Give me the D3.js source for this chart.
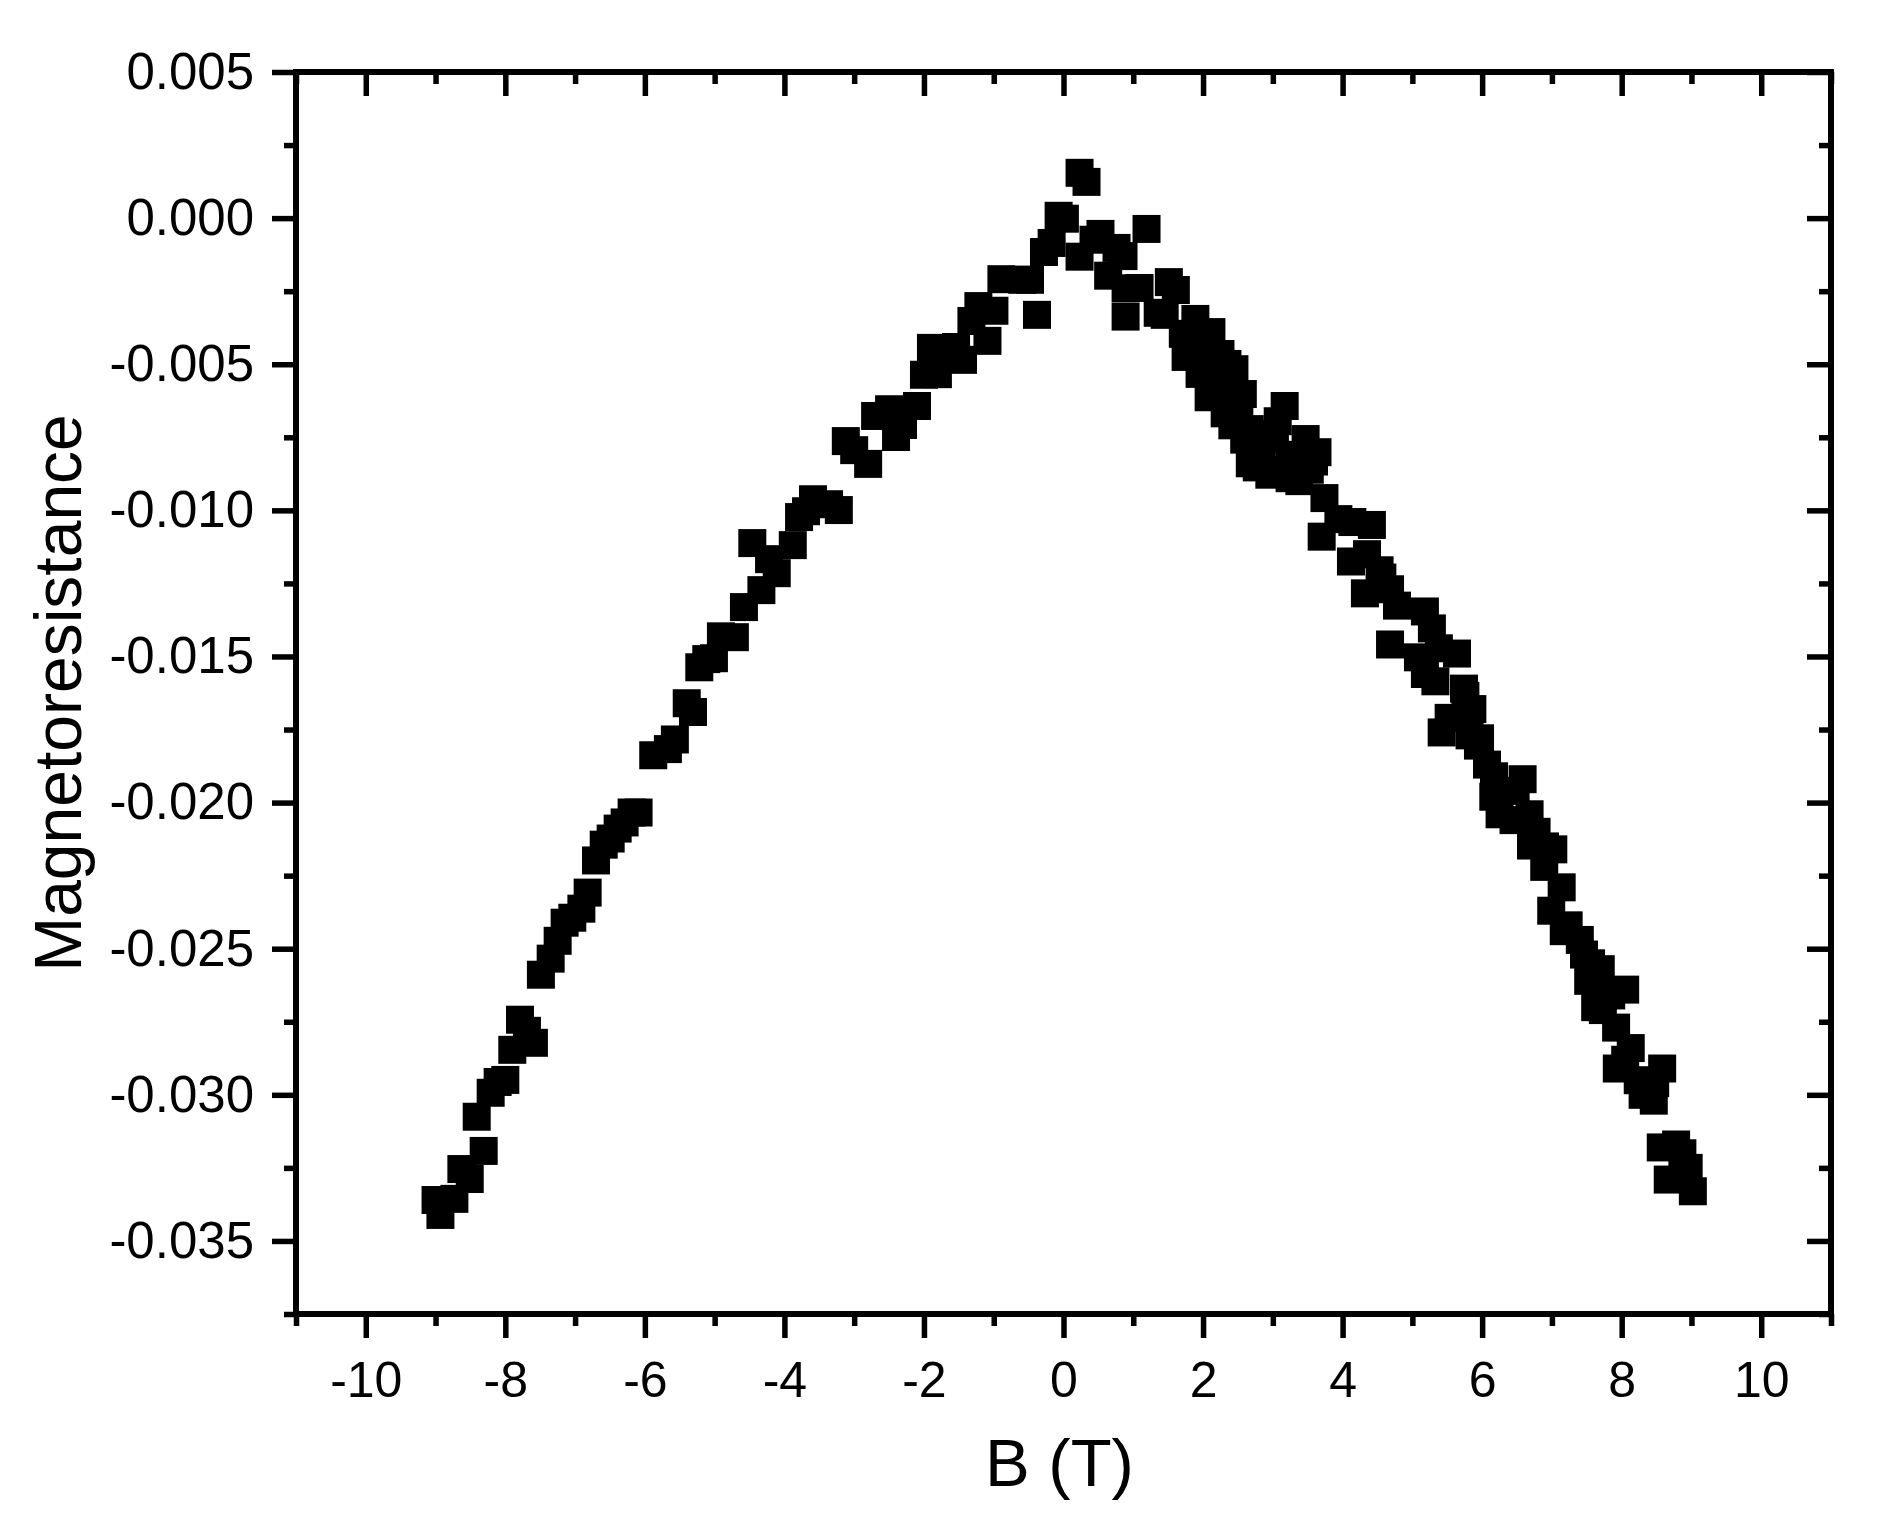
<!DOCTYPE html>
<html>
<head>
<meta charset="utf-8">
<script src="https://cdn.jsdelivr.net/npm/d3@7"></script>
<style>
  html, body { margin: 0; padding: 0; background: #fff; }
  svg { display: block; }
  text { font-family: "Liberation Sans", Arial, Helvetica, sans-serif; fill: #000; }
</style>
</head>
<body>
<svg id="chart" width="1888" height="1517"></svg>
<script>
// ---- Data ----
const fieldB = [
  -9.00,-8.93,-8.73,-8.63,-8.51,-8.41,-8.31,-8.21,-8.11,-8.00,
  -7.90,-7.79,-7.69,-7.59,-7.49,-7.35,-7.25,-7.15,-7.04,-6.91,
  -6.82,-6.70,-6.59,-6.49,-6.39,-6.29,-6.19,-6.09,-5.88,-5.67,
  -5.57,-5.40,-5.31,-5.22,-5.12,-5.01,-4.91,-4.71,-4.58,-4.46,
  -4.33,-4.22,-4.11,-3.88,-3.79,-3.69,-3.59,-3.36,-3.22,-3.12,
  -3.00,-2.80,-2.70,-2.50,-2.40,-2.30,-2.10,-2.00,-1.90,-1.80,
  -1.54,-1.44,-1.32,-1.22,-1.09,-0.99,-0.89,-0.59,-0.48,-0.38,
  -0.28,-0.17,-0.07,0.02,
  0.23,0.33,0.23,0.43,0.53,0.64,0.76,0.86,0.89,0.89,
  1.09,1.19,1.35,1.45,1.51,1.61,1.71,1.75,1.89,1.95,
  1.95,2.08,2.09,2.12,2.21,2.25,2.31,2.35,2.38,2.42,
  2.45,2.52,2.57,2.59,2.67,2.67,2.77,2.84,2.88,2.95,
  3.03,3.07,3.13,3.17,3.24,3.24,3.38,3.41,3.47,3.53,
  3.59,3.64,3.70,3.74,3.94,4.12,4.14,4.32,4.35,4.42,
  4.53,4.57,4.68,4.68,4.78,5.08,5.18,5.18,5.28,5.33,
  5.38,5.42,5.52,5.64,5.74,5.76,5.82,5.86,5.94,5.97,
  6.07,6.16,6.17,6.25,6.45,6.48,6.58,6.68,6.70,6.78,
  6.89,6.90,6.99,7.02,7.14,7.17,7.24,7.40,7.46,7.52,
  7.56,7.62,7.70,7.73,7.85,7.92,7.93,8.05,8.05,8.13,
  8.23,8.30,8.46,8.48,8.56,8.58,8.66,8.78,8.87,8.96,
  9.02
];
const magnetoresistance = [
  -0.03360,-0.03411,-0.03356,-0.03254,-0.03288,-0.03075,-0.03192,-0.02993,-0.02956,-0.02949,
  -0.02846,-0.02743,-0.02781,-0.02822,-0.02589,-0.02534,-0.02473,-0.02411,-0.02394,-0.02363,
  -0.02308,-0.02198,-0.02144,-0.02123,-0.02089,-0.02068,-0.02034,-0.02034,-0.01838,-0.01817,
  -0.01784,-0.01660,-0.01690,-0.01537,-0.01509,-0.01506,-0.01431,-0.01434,-0.01331,-0.01112,
  -0.01273,-0.01167,-0.01215,-0.01119,-0.01023,-0.01003,-0.00962,-0.00979,-0.00999,-0.00763,
  -0.00794,-0.00841,-0.00677,-0.00654,-0.00749,-0.00708,-0.00643,-0.00536,-0.00444,-0.00534,
  -0.00441,-0.00485,-0.00352,-0.00301,-0.00420,-0.00317,-0.00209,-0.00211,-0.00211,-0.00331,
  -0.00116,-0.00085,0.00008,-0.00002,
  0.00155,0.00124,-0.00132,-0.00074,-0.00054,-0.00197,-0.00102,-0.00130,-0.00337,-0.00240,
  -0.00239,-0.00037,-0.00324,-0.00331,-0.00219,-0.00246,-0.00396,-0.00475,-0.00345,-0.00533,
  -0.00433,-0.00613,-0.00501,-0.00390,-0.00553,-0.00465,-0.00668,-0.00499,-0.00594,-0.00709,
  -0.00517,-0.00663,-0.00602,-0.00758,-0.00722,-0.00839,-0.00853,-0.00792,-0.00740,-0.00878,
  -0.00758,-0.00695,-0.00860,-0.00643,-0.00890,-0.00810,-0.00900,-0.00832,-0.00756,-0.00861,
  -0.00833,-0.00801,-0.01090,-0.00958,-0.01030,-0.01175,-0.01040,-0.01284,-0.01150,-0.01050,
  -0.01205,-0.01230,-0.01270,-0.01459,-0.01326,-0.01503,-0.01346,-0.01560,-0.01404,-0.01585,
  -0.01472,-0.01760,-0.01710,-0.01490,-0.01610,-0.01635,-0.01770,-0.01680,-0.01805,-0.01780,
  -0.01870,-0.01980,-0.01910,-0.02040,-0.02060,-0.01960,-0.01920,-0.02040,-0.02147,-0.02100,
  -0.02220,-0.02150,-0.02370,-0.02160,-0.02290,-0.02440,-0.02420,-0.02470,-0.02520,-0.02610,
  -0.02550,-0.02700,-0.02570,-0.02710,-0.02660,-0.02770,-0.02910,-0.02640,-0.02880,-0.02840,
  -0.02950,-0.03000,-0.03020,-0.02960,-0.03180,-0.02910,-0.03290,-0.03170,-0.03200,-0.03250,
  -0.03330
];
const xMajorTicks = [-10,-8,-6,-4,-2,0,2,4,6,8,10];
const xMinorTicks = [-11,-9,-7,-5,-3,-1,1,3,5,7,9,11];
const yMajorTicks = [0.005,0.000,-0.005,-0.010,-0.015,-0.020,-0.025,-0.030,-0.035];
const yMinorTicks = [0.0025,-0.0025,-0.0075,-0.0125,-0.0175,-0.0225,-0.0275,-0.0325,-0.0375];
const xTitle = "B (T)";
const yTitle = "Magnetoresistance";

// ---- Layout ----
const L = 296, R = 1831, T = 72, B = 1314;
const svg = d3.select("#chart");
const x = d3.scaleLinear().domain([-11, 11]).range([L, R]);
const y = d3.scaleLinear().domain([-0.0375, 0.005]).range([B, T]);

const points = fieldB.map((b, i) => ({ b, mr: magnetoresistance[i] }));

// markers
svg.append("g").selectAll("path").data(points).join("path")
  .attr("d", d3.symbol(d3.symbolSquare, 28 * 28))
  .attr("transform", d => `translate(${x(d.b)},${y(d.mr)})`)
  .attr("fill", "#000");

function styleAxis(g, fontSize) {
  g.select(".domain").remove();
  g.selectAll(".tick line").attr("stroke", "#000").attr("stroke-width", 5.5);
  g.selectAll(".tick text").attr("font-size", fontSize)
    .attr("font-family", '"Liberation Sans", Arial, sans-serif').attr("fill", "#000");
}

// bottom axis
svg.append("g").attr("transform", `translate(0,${B})`)
  .call(d3.axisBottom(x).tickValues(xMajorTicks).tickSize(24).tickPadding(23).tickFormat(d => String(d)))
  .call(g => styleAxis(g, 50));
svg.append("g").attr("transform", `translate(0,${B})`)
  .call(d3.axisBottom(x).tickValues(xMinorTicks).tickSize(12).tickFormat(""))
  .call(g => styleAxis(g, 50));
// top axis (inward)
svg.append("g").attr("transform", `translate(0,${T})`)
  .call(d3.axisTop(x).tickValues(xMajorTicks).tickSize(-24).tickFormat(""))
  .call(g => styleAxis(g, 50));
svg.append("g").attr("transform", `translate(0,${T})`)
  .call(d3.axisTop(x).tickValues(xMinorTicks).tickSize(-12).tickFormat(""))
  .call(g => styleAxis(g, 50));
// left axis
svg.append("g").attr("transform", `translate(${L},0)`)
  .call(d3.axisLeft(y).tickValues(yMajorTicks).tickSize(24).tickPadding(18).tickFormat(d => d.toFixed(3)))
  .call(g => styleAxis(g, 51));
svg.append("g").attr("transform", `translate(${L},0)`)
  .call(d3.axisLeft(y).tickValues(yMinorTicks).tickSize(12).tickFormat(""))
  .call(g => styleAxis(g, 51));
// right axis (inward)
svg.append("g").attr("transform", `translate(${R},0)`)
  .call(d3.axisRight(y).tickValues(yMajorTicks).tickSize(-24).tickFormat(""))
  .call(g => styleAxis(g, 51));
svg.append("g").attr("transform", `translate(${R},0)`)
  .call(d3.axisRight(y).tickValues(yMinorTicks).tickSize(-12).tickFormat(""))
  .call(g => styleAxis(g, 51));

// frame
svg.append("rect").attr("x", L).attr("y", T).attr("width", R - L).attr("height", B - T)
  .attr("fill", "none").attr("stroke", "#000").attr("stroke-width", 6);

// titles
svg.append("text").attr("x", (L + R) / 2 - 4).attr("y", 1486)
  .attr("text-anchor", "middle").attr("font-size", 67).text(xTitle);
svg.append("text").attr("transform", `translate(81,${(T + B) / 2}) rotate(-90)`)
  .attr("text-anchor", "middle").attr("font-size", 66).text(yTitle);
</script>
</body>
</html>
